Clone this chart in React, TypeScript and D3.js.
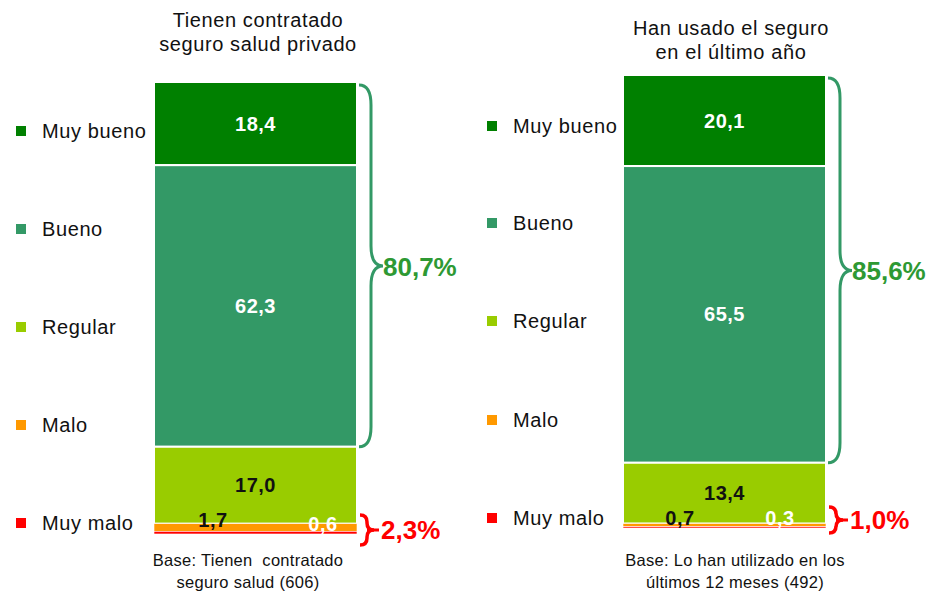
import React from 'react';
import * as d3 from 'd3';

// Rating categories, top to bottom
const categories = ['Muy bueno', 'Bueno', 'Regular', 'Malo', 'Muy malo'];
const colors = ['#008000', '#339966', '#99CC00', '#FF9900', '#FF0000'];

// Left panel: have private health insurance
const contractedValues = [18.4, 62.3, 17.0, 1.7, 0.6];
const contractedTitle = ['Tienen contratado', 'seguro salud privado'];
const contractedBase = ['Base: Tienen  contratado', 'seguro salud (606)'];
const contractedGood = '80,7%';
const contractedBad = '2,3%';

// Right panel: used the insurance in the last year
const usedValues = [20.1, 65.5, 13.4, 0.7, 0.3];
const usedTitle = ['Han usado el seguro', 'en el último año'];
const usedBase = ['Base: Lo han utilizado en los', 'últimos 12 meses (492)'];
const usedGood = '85,6%';
const usedBad = '1,0%';

const FONT = 'Liberation Sans, Arial, sans-serif';
const fmt = (v: number) => v.toFixed(1).replace('.', ',');

// Vertical curly brace opening to the left, tip pointing right
function bracePath(x0: number, y0: number, y1: number, w: number, r: number) {
  const p = d3.path();
  const xm = x0 + w / 2;
  const ym = (y0 + y1) / 2;
  p.moveTo(x0, y0);
  p.quadraticCurveTo(xm, y0, xm, y0 + r);
  p.lineTo(xm, ym - r);
  p.quadraticCurveTo(xm, ym, x0 + w, ym);
  p.quadraticCurveTo(xm, ym, xm, ym + r);
  p.lineTo(xm, y1 - r);
  p.quadraticCurveTo(xm, y1, x0, y1);
  return p.toString();
}

type PanelProps = {
  values: number[];
  title: string[];
  base: string[];
  good: string;
  bad: string;
  legendX: number;
  legendY: number[];
  barX: number;
  top: number;
  bottom: number;
  titleX: number;
  titleY: number[];
  baseX: number;
  smallLabelX: [number, number];
  smallLabelY: [number, number];
  badMid: number;
  badHalf: number;
  badTextDy: number;
};

function Panel(p: PanelProps) {
  const barW = 203;
  const y = d3.scaleLinear().domain([0, 100]).range([p.top, p.bottom]);
  const cum = d3.cumsum(p.values);
  const segs = p.values.map((v, i) => ({ v, y0: i === 0 ? 0 : cum[i - 1], y1: cum[i], i }));
  const cx = p.barX + barW / 2;

  const goodTop = y(0) + 3;
  const goodBot = y(cum[1]);
  const right = p.barX + barW;

  return (
    <g fontFamily={FONT}>
      {p.title.map((t, i) => (
        <text key={t} x={p.titleX} y={p.titleY[i]} textAnchor="middle" fontSize={20}
          letterSpacing={0.6} fill="#111">{t}</text>
      ))}
      {categories.map((c, i) => (
        <g key={c}>
          <rect x={p.legendX} y={p.legendY[i] - 5} width={10} height={10} fill={colors[i]} />
          <text x={p.legendX + 26} y={p.legendY[i] + 7} fontSize={20} letterSpacing={0.6} fill="#111">{c}</text>
        </g>
      ))}
      {segs.map(s => (
        <rect key={s.i} x={p.barX} y={y(s.y0)} width={barW} height={y(s.y1) - y(s.y0)}
          fill={colors[s.i]} stroke="#fff" strokeWidth={s.i >= 3 ? 0.6 : 2} />
      ))}
      {segs.slice(0, 3).map(s => (
        <text key={s.i} x={cx} y={(y(s.y0) + y(s.y1)) / 2 + 7}
          textAnchor="middle" fontSize={20} fontWeight="bold" letterSpacing={0.5}
          fill={s.i === 2 ? '#111' : '#fff'}>{fmt(s.v)}</text>
      ))}
      <text x={p.smallLabelX[0]} y={p.smallLabelY[0]} textAnchor="middle" fontSize={20} fontWeight="bold"
        letterSpacing={0.5} fill="#111">{fmt(p.values[3])}</text>
      <text x={p.smallLabelX[1]} y={p.smallLabelY[1]} textAnchor="middle" fontSize={20} fontWeight="bold"
        letterSpacing={0.5} fill="#fff">{fmt(p.values[4])}</text>
      <path d={bracePath(right + 2, goodTop, goodBot, 24, 20)} fill="none" stroke="#339966" strokeWidth={3} />
      <text x={right + 26} y={(goodTop + goodBot) / 2 + 10} fontSize={26} fontWeight="bold" fill="#2E9933">{p.good}</text>
      <path d={bracePath(right + 3, p.badMid - p.badHalf, p.badMid + p.badHalf, 14, 7)} fill="none"
        stroke="#FF0000" strokeWidth={3.5} />
      <path d={`M${right + 10},${p.badMid}H${right + 22}`} stroke="#FF0000" strokeWidth={3} />
      <text x={right + 24} y={p.badMid + p.badTextDy} fontSize={26} fontWeight="bold" fill="#FF0000">{p.bad}</text>
      {p.base.map((t, i) => (
        <text key={t} x={p.baseX} y={566 + i * 22} textAnchor="middle" fontSize={16.5} letterSpacing={0.3} fill="#111"
          style={{ whiteSpace: 'pre' }}>{t}</text>
      ))}
    </g>
  );
}

export default function App() {
  return (
    <svg width={939} height={593} style={{ position: 'absolute', left: 0, top: 0, background: '#fff' }}>
      <Panel values={contractedValues} title={contractedTitle} base={contractedBase}
        good={contractedGood} bad={contractedBad}
        legendX={16} legendY={[131, 229, 327, 425, 523]}
        barX={154} top={82} bottom={534} titleX={258} titleY={[27, 51]} baseX={248}
        smallLabelX={[213, 323]} smallLabelY={[527, 531]}
        badMid={530} badHalf={15} badTextDy={9} />
      <Panel values={usedValues} title={usedTitle} base={usedBase}
        good={usedGood} bad={usedBad}
        legendX={487} legendY={[126, 223, 321, 420, 518]}
        barX={623} top={75} bottom={528} titleX={731} titleY={[35, 59]} baseX={735}
        smallLabelX={[680, 780]} smallLabelY={[525, 525]}
        badMid={520} badHalf={13} badTextDy={9} />
    </svg>
  );
}
